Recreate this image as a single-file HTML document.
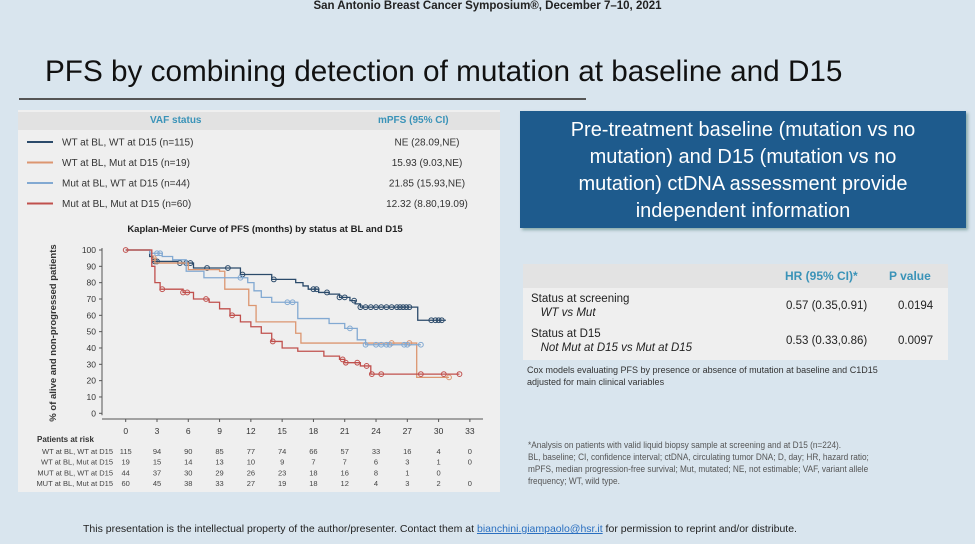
<!DOCTYPE html>
<html><head><meta charset="utf-8"><style>
body{margin:0;width:975px;height:544px;overflow:hidden;background:#d9e5ee;font-family:"Liberation Sans",sans-serif;position:relative}
.a{position:absolute}
</style></head><body>
<div class="a" style="left:0;top:0;width:975px;text-align:center;font-size:11.5px;font-weight:bold;color:#222;">San Antonio Breast Cancer Symposium®, December 7–10, 2021</div>
<div class="a" style="left:45px;top:55px;font-size:30px;color:#111;transform:scaleX(0.99);transform-origin:left;white-space:nowrap">PFS by combining detection of mutation at baseline and D15</div>
<div class="a" style="left:19px;top:98px;width:567px;height:2px;background:#555"></div>

<div class="a" style="left:18px;top:110px;width:482px;height:382px;background:#efefef"></div>
<div class="a" style="left:18px;top:112px;width:482px;height:18px;background:#e2e2e2"></div>
<div class="a" style="left:150px;top:115px;font-size:10px;font-weight:bold;color:#3a93b8">VAF status</div>
<div class="a" style="left:378px;top:115px;font-size:10px;font-weight:bold;color:#3a93b8">mPFS (95% CI)</div>

<svg class="a" style="left:0;top:0" width="975" height="544" id="chart"></svg>

<div class="a" style="left:520px;top:111px;width:446px;height:117px;background:#1e5b8d;box-shadow:2px 2px 3px #8aa;color:#fff;font-size:20px;line-height:27px;text-align:center;padding-top:6px;box-sizing:border-box;white-space:nowrap">Pre-treatment baseline (mutation vs no<br>mutation) and D15 (mutation vs no<br>mutation) ctDNA assessment provide<br>independent information</div>

<div class="a" style="left:523px;top:264px;width:425px;height:96px;background:#efefef"></div>
<div class="a" style="left:523px;top:264px;width:425px;height:24px;background:#e3e3e3"></div>
<div class="a" style="left:785px;top:269px;font-size:12px;font-weight:bold;color:#3a93b8">HR (95% CI)*</div>
<div class="a" style="left:889px;top:269px;font-size:12px;font-weight:bold;color:#3a93b8">P value</div>
<div class="a" style="left:531px;top:292px;font-size:11.5px;color:#222;line-height:14px">Status at screening<br><i>&nbsp;&nbsp;&nbsp;WT vs Mut</i></div>
<div class="a" style="left:786px;top:300px;font-size:11.5px;color:#222">0.57 (0.35,0.91)</div>
<div class="a" style="left:898px;top:300px;font-size:11.5px;color:#222">0.0194</div>
<div class="a" style="left:531px;top:327px;font-size:11.5px;color:#222;line-height:14px">Status at D15<br><i>&nbsp;&nbsp;&nbsp;Not Mut at D15 vs Mut at D15</i></div>
<div class="a" style="left:786px;top:335px;font-size:11.5px;color:#222">0.53 (0.33,0.86)</div>
<div class="a" style="left:898px;top:335px;font-size:11.5px;color:#222">0.0097</div>
<div class="a" style="left:527px;top:364px;font-size:9px;color:#333;line-height:12px">Cox models evaluating PFS by presence or absence of mutation at baseline and C1D15<br>adjusted for main clinical variables</div>

<div class="a" style="left:528px;top:440px;width:470px;font-size:9.5px;color:#555;line-height:12px;transform:scaleX(0.87);transform-origin:left">*Analysis on patients with valid liquid biopsy sample at screening and at D15 (n=224).<br>BL, baseline; CI, confidence interval; ctDNA, circulating tumor DNA; D, day; HR, hazard ratio;<br>mPFS, median progression-free survival; Mut, mutated; NE, not estimable; VAF, variant allele<br>frequency; WT, wild type.</div>

<div class="a" style="left:83px;top:523px;font-size:10.5px;color:#222;white-space:nowrap">This presentation is the intellectual property of the author/presenter. Contact them at <span style="color:#2a6fc0;text-decoration:underline">bianchini.giampaolo@hsr.it</span> for permission to reprint and/or distribute.</div>

<script>
const groupNames=["WT at BL, WT at D15 (n=115)","WT at BL, Mut at D15 (n=19)","Mut at BL, WT at D15 (n=44)","Mut at BL, Mut at D15 (n=60)"];
const mpfs=["NE (28.09,NE)","15.93 (9.03,NE)","21.85 (15.93,NE)","12.32 (8.80,19.09)"];
const colors=["#2b4a6a","#dc9670","#82a9d2","#c0504d"];
const xTicks=[0,3,6,9,12,15,18,21,24,27,30,33];
const yTicks=[0,10,20,30,40,50,60,70,80,90,100];
const riskLabels=["WT at BL, WT at D15","WT at BL, Mut at D15","MUT at BL, WT at D15","MUT at BL, Mut at D15"];
const risk=[[115,94,90,85,77,74,66,57,33,16,4,0],[19,15,14,13,10,9,7,7,6,3,1,0],[44,37,30,29,26,23,18,16,8,1,0,null],[60,45,38,33,27,19,18,12,4,3,2,0]];
const navyT=[0,2.3,2.6,5,6.5,11,14,16.3,17,17.5,18.5,19.5,20.5,21.5,22,22.5,28,30.7];
const navyS=[100,96,93,92,89,85,82,80,78,76,74,73,71,69,67,65,57,57];
const navyC=[2.8,3,5.2,5.8,6.2,7.8,9.8,11.2,14.2,18,18.3,19.3,20.5,21,21.9,22.5,23,23.5,24,24.5,25,25.5,26,26.3,26.6,26.9,27.2,29.3,29.7,30,30.3];
const orangeT=[0,2.5,2.8,6,9,9.5,11.8,12.5,16.3,16.8,27.9,31];
const orangeS=[100,95,92,88,87,76,66,56,49,43,22,22];
const orangeC=[2.7,25.5,27.2,31];
const blueT=[0,2.3,3.5,4.5,5.8,7.5,11,11.7,12.3,13,14,16.5,19.5,21,22.2,23,28.3];
const blueS=[100,98,96,94,87,83,83,80,75,71,68,58,55,52,45,42,42];
const blueC=[3,3.3,11,15.5,16,21.5,23,24,24.5,25,25.3,26.7,27,28.3];
const redT=[0,2.5,2.8,3.3,5.5,6.5,8,9,10,11,12,13,14,15,16.5,19,20.5,21,22.5,23.5,32];
const redS=[100,90,80,76,74,70,68,64,60,56,53,49,44,40,38,35,33,31,29,24,24];
const redC=[0,3.5,5.5,5.9,7.7,10.2,14.1,20.8,21.1,22.2,23.1,23.6,24.5,28.3,30.5,32];
const series=[[navyT,navyS,navyC],[orangeT,orangeS,orangeC],[blueT,blueS,blueC],[redT,redS,redC]];
const svg=document.getElementById('chart');const NS='http://www.w3.org/2000/svg';
const X=t=>125.7+t*10.43, Y=v=>413.3-v*1.633;
function el(tag,at,txt){const e=document.createElementNS(NS,tag);for(const k in at)e.setAttribute(k,at[k]);if(txt!==undefined)e.textContent=txt;svg.appendChild(e);return e;}
function stepAt(T,S,t){let v=S[0];for(let i=0;i<T.length;i++){if(T[i]<=t)v=S[i];}return v;}
groupNames.forEach((g,i)=>{const y=142+i*20.5;
const l=el('line',{x1:27,x2:53,y1:y,y2:y,stroke:colors[i],'stroke-width':2});


const t=el('text',{x:62,y:y+3.5,'font-size':10,fill:'#333'},g);


const m=el('text',{x:427,y:y+3.5,'font-size':10,fill:'#333','text-anchor':'middle'},mpfs[i]);

});
const ct=el('text',{x:265,y:232,'font-size':9.5,'font-weight':'bold',fill:'#222','text-anchor':'middle'},'Kaplan-Meier Curve of PFS (months) by status at BL and D15');


const yt=el('text',{x:0,y:0,'font-size':9.5,'font-weight':'bold',fill:'#333','text-anchor':'middle',transform:'translate(56,333) rotate(-90)'},'% of alive and non-progressed patients');


const ya=el('line',{x1:102,x2:102,y1:Y(100)-2,y2:Y(0)+2,stroke:'#555','stroke-width':1});


const xa=el('line',{x1:102,x2:483,y1:419,y2:419,stroke:'#555','stroke-width':1});


yTicks.forEach(v=>{el('line',{x1:99,x2:102,y1:Y(v),y2:Y(v),stroke:'#555'});
const t=el('text',{x:96,y:Y(v)+3,'font-size':8.5,fill:'#333','text-anchor':'end'},v);

});
xTicks.forEach(v=>{el('line',{x1:X(v),x2:X(v),y1:419,y2:422,stroke:'#555'});
const t=el('text',{x:X(v),y:434,'font-size':8.5,fill:'#333','text-anchor':'middle'},v);

});
series.forEach(([T,S,C],i)=>{let d='M'+X(T[0])+','+Y(S[0]);for(let k=1;k<T.length;k++){d+='H'+X(T[k])+'V'+Y(S[k]);}
const p=el('path',{d:d,fill:'none',stroke:colors[i],'stroke-width':1.3});


C.forEach(t=>{const c=el('circle',{cx:X(t),cy:Y(stepAt(T,S,t)),r:2.4,fill:'none',stroke:colors[i],'stroke-width':1});

});});
const rt=el('text',{x:37,y:442,'font-size':8,'font-weight':'bold',fill:'#333'},'Patients at risk');


riskLabels.forEach((lb,i)=>{const y=454+i*10.7;
const t=el('text',{x:113,y:y,'font-size':7.5,fill:'#444','text-anchor':'end'},lb);


risk[i].forEach((n,j)=>{if(n===null)return;
const c=el('text',{x:X(xTicks[j]),y:y,'font-size':7.5,fill:'#444','text-anchor':'middle'},n);

});});
</script>
</body></html>
